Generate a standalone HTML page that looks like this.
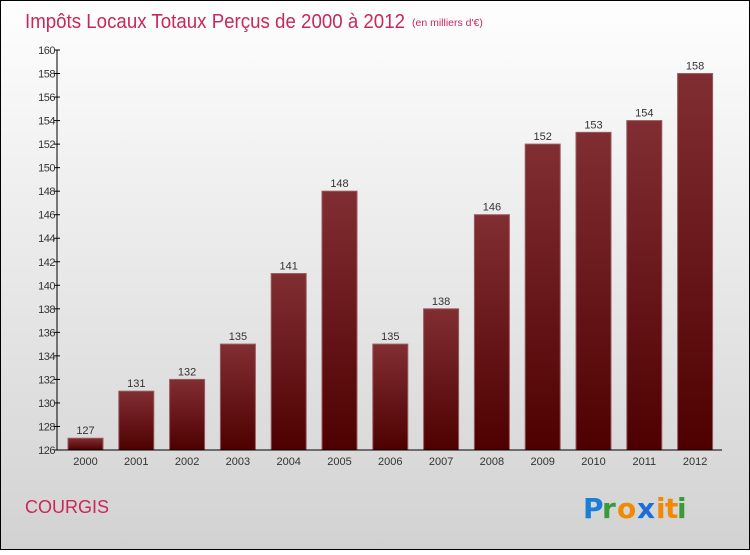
<!DOCTYPE html>
<html><head><meta charset="utf-8"><style>
body{margin:0;width:750px;height:550px;overflow:hidden;font-family:"Liberation Sans","DejaVu Sans",sans-serif}
</style></head><body>
<svg width="750" height="550" xmlns="http://www.w3.org/2000/svg">
<defs>
<linearGradient id="bg" x1="0" y1="0" x2="0" y2="1"><stop offset="0" stop-color="#fefefe"/><stop offset="1" stop-color="#d2d2d2"/></linearGradient>
<linearGradient id="bar" x1="0" y1="0" x2="0" y2="1"><stop offset="0" stop-color="#812e33"/><stop offset="1" stop-color="#4e0000"/></linearGradient>
</defs>
<rect x="0.5" y="0.5" width="749" height="549" fill="url(#bg)" stroke="#000"/>
<text x="25" y="28" font-size="20" fill="#c8285a" textLength="380" lengthAdjust="spacingAndGlyphs">Impôts Locaux Totaux Perçus de 2000 à 2012</text>
<text x="412" y="26" font-size="10.5" fill="#c8285a">(en milliers d'€)</text>
<g id="plot"></g>
<text x="25" y="513" font-size="18" fill="#c8285a">COURGIS</text>
<g font-size="28" font-weight="bold" font-family="'DejaVu Sans',sans-serif">
<text x="583" y="518" fill="#1a7ed6">P</text><text x="602" y="518" fill="#3a9a3a">r</text><text x="617" y="518" fill="#f08a00">o</text><text x="637" y="518" fill="#1a6ed6">x</text><text x="656" y="518" fill="#f08a00">i</text><text x="665" y="518" fill="#f08a00">t</text><text x="677" y="518" fill="#3a9a3a">i</text>
</g>
</svg>
<script>
const years=["2000","2001","2002","2003","2004","2005","2006","2007","2008","2009","2010","2011","2012"];
const values=[127,131,132,135,141,148,135,138,146,152,153,154,158];
const yTicks=[126,128,130,132,134,136,138,140,142,144,146,148,150,152,154,156,158,160];
const NS="http://www.w3.org/2000/svg";
const g=document.getElementById("plot");
const yMin=126,yMax=160,y0=450,y1=50;
function y(v){return y0-(v-yMin)/(yMax-yMin)*(y0-y1);}
function x(i){return 85.5+i*50.8;}
function el(t,a){const e=document.createElementNS(NS,t);for(const k in a)e.setAttribute(k,a[k]);g.appendChild(e);return e;}
values.forEach((v,i)=>{
const r=el("rect",{x:x(i)-17.5,y:y(v),width:35,height:y0-y(v),fill:"url(#bar)",stroke:"#9a5a5e","stroke-width":1});


const t=el("text",{x:x(i),y:y(v)-4,"font-size":11,"text-anchor":"middle",fill:"#333"});t.textContent=v;


const xl=el("text",{x:x(i),y:465,"font-size":11,"text-anchor":"middle",fill:"#333"});xl.textContent=years[i];


});
yTicks.forEach(v=>{
const l=el("line",{x1:54,x2:60,y1:y(v),y2:y(v),stroke:"#000"});


const t=el("text",{x:55,y:y(v)+4,"font-size":11,"text-anchor":"end",fill:"#333","letter-spacing":"-0.5"});t.textContent=v;


});
const ya=el("line",{x1:57,x2:57,y1:50,y2:450,stroke:"#000"});


const xa=el("line",{x1:57,x2:722,y1:450,y2:450,stroke:"#000"});


</script>
</body></html>
